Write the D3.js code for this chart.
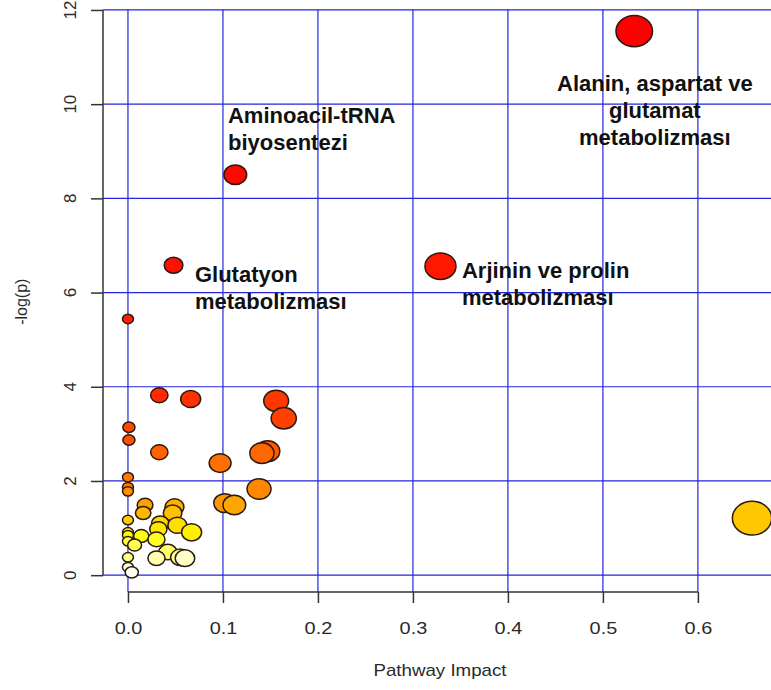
<!DOCTYPE html>
<html>
<head>
<meta charset="utf-8">
<script src="https://cdn.jsdelivr.net/npm/d3@7"></script>
<style>
  body { margin: 0; background: #fff; }
  svg { display: block; }
  text { font-family: "Liberation Sans", Arial, sans-serif; }
</style>
</head>
<body>
<svg id="chart" width="771" height="690"></svg>
<script>
// Pathway impact (x) and -log(p) (y) for each metabolic pathway
const impact = [
  0.533, 0.113, 0.048, 0.329, 0.000, 0.033, 0.066, 0.156, 0.164, 0.001,
  0.001, 0.147, 0.033, 0.141, 0.097, 0.000, 0.000, 0.138, 0.000, 0.102,
  0.018, 0.112, 0.049, 0.016, 0.047, 0.657, 0.000, 0.034, 0.052, 0.032,
  0.067, 0.000, 0.000, 0.014, 0.030, 0.000, 0.007, 0.042, 0.000, 0.055,
  0.030, 0.060, 0.000, 0.004
];
const negLogP = [
  11.55, 8.50, 6.58, 6.56, 5.44, 3.82, 3.74, 3.70, 3.33, 3.14,
  2.87, 2.63, 2.61, 2.59, 2.38, 2.08, 1.87, 1.83, 1.78, 1.53,
  1.49, 1.49, 1.45, 1.32, 1.32, 1.21, 1.17, 1.10, 1.06, 0.98,
  0.91, 0.91, 0.85, 0.83, 0.76, 0.72, 0.64, 0.49, 0.38, 0.38,
  0.36, 0.36, 0.17, 0.06
];
const xTicks = [0, 0.1, 0.2, 0.3, 0.4, 0.5, 0.6];
const yTicks = [0, 2, 4, 6, 8, 10, 12];
const xTitle = "Pathway Impact";
const yTitle = "-log(p)";

// Annotated pathways: text lines and the data point where the first baseline sits
const annoLines = [
  ["Alanin, aspartat ve", "glutamat", "metabolizması"],
  ["Aminoacil-tRNA", "biyosentezi"],
  ["Glutatyon", "metabolizması"],
  ["Arjinin ve prolin", "metabolizması"]
];
const annoX = [0.5547, 0.1053, 0.0705, 0.3516];
const annoY = [10.28, 9.60, 6.22, 6.31];
const annoAnchor = ["middle", "start", "start", "start"];

// R's heat.colors(n)
function heatColors(n) {
  const j = Math.floor(n / 4), i = n - j;
  const out = [];
  for (let k = 0; k < i; k++) {
    const h = i > 1 ? (k / (i - 1)) * 60 : 0;
    out.push(d3.hsl(h, 1, 0.5).formatHex());
  }
  for (let k = 0; k < j; k++) {
    const s = j > 1 ? (1 - 1 / (2 * j)) - k * ((1 - 1 / j) / (j - 1)) : 0.5;
    // hsv(1/6, s, 1) -> rgb(255, 255, 255*(1-s))
    out.push(d3.rgb(255, 255, Math.round(255 * (1 - s))).formatHex());
  }
  return out;
}

const svg = d3.select("#chart");
const W = 771, H = 690;
svg.append("rect").attr("width", W).attr("height", H).attr("fill", "#fff");

// plot region (R-style 4% padding around data range)
const box = { left: 103, right: 777, top: 9.5, bottom: 594 };
const xAxisY = 592;
const stretch = 1.17; // horizontal aspect of the device
const xExt = d3.extent(impact), yExt = d3.extent(negLogP);
const xPad = (xExt[1] - xExt[0]) * 0.04, yPad = (yExt[1] - yExt[0]) * 0.04;
const x = d3.scaleLinear().domain([xExt[0] - xPad, xExt[1] + xPad]).range([box.left, box.right]);
const y = d3.scaleLinear().domain([yExt[0] - yPad, yExt[1] + yPad]).range([box.bottom, box.top]);
const r = d3.scaleSqrt().domain([0, 0.66]).range([5.5, 19.7]);

// grid
const grid = svg.append("g").attr("stroke", "#2525dc").attr("stroke-width", 1.2);
grid.selectAll("line.v").data(xTicks).join("line")
  .attr("x1", d => x(d)).attr("x2", d => x(d))
  .attr("y1", box.top).attr("y2", xAxisY);
grid.selectAll("line.h").data(yTicks).join("line")
  .attr("x1", box.left).attr("x2", box.right)
  .attr("y1", d => y(d)).attr("y2", d => y(d));

// axes
const axisColor = "#333";
const xAxis = svg.append("g").attr("transform", `translate(0,${xAxisY})`)
  .call(d3.axisBottom(x).tickValues(xTicks).tickSize(11).tickPadding(19).tickFormat(d3.format(".1f")));
xAxis.select(".domain").remove();
xAxis.selectAll(".tick line").attr("stroke", axisColor).attr("stroke-width", 1.5);
xAxis.selectAll(".tick text").attr("fill", "#2a2a2a").attr("font-size", 17)
  .attr("transform", `scale(${stretch},1)`);
xAxis.append("line").attr("x1", x(xTicks[0])).attr("x2", x(xTicks[xTicks.length - 1]))
  .attr("stroke", axisColor).attr("stroke-width", 1.5);

const yAxis = svg.append("g").attr("transform", `translate(${box.left},0)`)
  .call(d3.axisLeft(y).tickValues(yTicks).tickSize(12).tickFormat(() => ""));
yAxis.select(".domain").remove();
yAxis.selectAll(".tick line").attr("stroke", axisColor).attr("stroke-width", 1.5);
yAxis.append("line").attr("y1", y(yTicks[0])).attr("y2", y(yTicks[yTicks.length - 1]))
  .attr("stroke", axisColor).attr("stroke-width", 1.5);
svg.append("g").selectAll("text").data(yTicks).join("text")
  .attr("transform", d => `translate(${box.left - 33},${y(d)}) rotate(-90)`)
  .attr("text-anchor", "middle").attr("dy", "0.35em")
  .attr("font-size", 17).attr("fill", "#2a2a2a")
  .text(d => d);

svg.append("text")
  .attr("transform", `translate(${(box.left + box.right) / 2},676) scale(${stretch},1)`)
  .attr("text-anchor", "middle").attr("font-size", 16).attr("fill", "#2a2a2a")
  .text(xTitle);
svg.append("text")
  .attr("transform", `translate(27,${(box.top + box.bottom) / 2}) rotate(-90)`)
  .attr("text-anchor", "middle").attr("font-size", 16).attr("fill", "#2a2a2a")
  .text(yTitle);

// points: colored by rank of -log(p), sized by impact, drawn most significant first
const order = d3.range(impact.length).sort((a, b) => negLogP[b] - negLogP[a]);
const colors = heatColors(impact.length);
const rankColor = new Map(order.map((idx, k) => [idx, colors[k]]));
svg.append("g").selectAll("ellipse").data(order).join("ellipse")
  .attr("cx", i => x(impact[i]))
  .attr("cy", i => y(negLogP[i]))
  .attr("rx", i => r(impact[i]))
  .attr("ry", i => r(impact[i]) / stretch)
  .attr("fill", i => rankColor.get(i))
  .attr("stroke", "#2a1a10").attr("stroke-width", 1.5);

// annotations
const anno = svg.append("g").attr("font-size", 22).attr("font-weight", "bold").attr("fill", "#111");
annoLines.forEach((lines, k) => {
  const t = anno.append("text")
    .attr("x", x(annoX[k])).attr("y", y(annoY[k]))
    .attr("text-anchor", annoAnchor[k]);
  lines.forEach((ln, li) => {
    t.append("tspan").attr("x", x(annoX[k])).attr("dy", li === 0 ? 0 : 27).text(ln);
  });
});
</script>
</body>
</html>
